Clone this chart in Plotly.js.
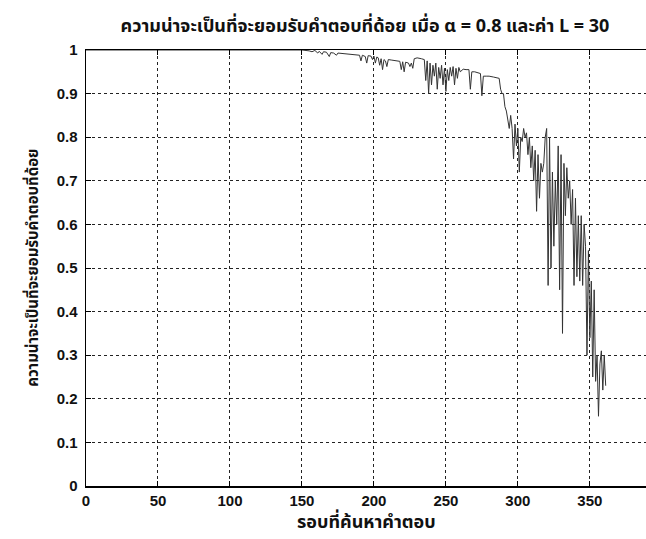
<!DOCTYPE html>
<html>
<head>
<meta charset="utf-8">
<script src="https://cdn.plot.ly/plotly-3.0.1.min.js"></script>
<style>
html,body{margin:0;padding:0;background:#fff;}
#chart{width:646px;height:539px;}
</style>
</head>
<body>
<div id="chart"></div>
<script>
// Data (iteration, probability of accepting a worse solution)
const iteration = [
  0, 150, 155, 157, 159, 161, 162, 164, 165, 167, 169, 170, 172, 174, 175, 178, 180, 183, 185, 188,
  190, 191, 192, 194, 195, 196, 198, 199, 200, 201, 202, 203, 204, 205, 206, 207, 208, 209, 210, 212,
  214, 216, 218, 219, 220, 221, 222, 224, 225, 226, 227, 228, 230, 233, 235, 236, 237, 238, 239, 240,
  241, 242, 243, 244, 245, 246, 247, 248, 249, 250, 251, 252, 253, 254, 255, 256, 257, 258, 259, 260,
  262, 264, 266, 267, 268, 270, 272, 274, 275, 276, 278, 280, 283, 285, 287, 288, 289, 290, 291, 292,
  293, 294, 295, 296, 297, 298, 299, 300, 301, 302, 303, 304, 305, 306, 307, 308, 309, 310, 311, 312,
  313, 314, 315, 316, 317, 318, 319, 320, 321, 322, 323, 324, 325, 326, 327, 328, 329, 330, 331, 332,
  333, 334, 335, 336, 337, 338, 339, 340, 341, 342, 343, 344, 345, 346, 347, 348, 349, 350, 351, 352,
  353, 354, 355, 356, 357, 358, 359, 360, 361
];
const probability = [
  1, 1, 0.998, 0.996, 0.999, 0.993, 0.997, 0.99, 0.996, 0.995, 0.985, 0.994, 0.993, 0.988, 0.993, 0.992, 0.991, 0.99, 0.99, 0.99,
  0.988, 0.975, 0.988, 0.985, 0.97, 0.987, 0.986, 0.978, 0.986, 0.97, 0.984, 0.982, 0.965, 0.98, 0.955, 0.978, 0.975, 0.962, 0.978, 0.977,
  0.976, 0.975, 0.974, 0.955, 0.973, 0.95, 0.972, 0.97, 0.962, 0.97, 0.958, 0.98, 0.982, 0.98, 0.978, 0.93, 0.975, 0.9, 0.97, 0.92,
  0.965, 0.94, 0.97, 0.91, 0.96, 0.935, 0.965, 0.92, 0.958, 0.905, 0.955, 0.93, 0.96, 0.94, 0.962, 0.92, 0.958, 0.935, 0.96, 0.95,
  0.956, 0.955, 0.955, 0.91, 0.95, 0.95, 0.948, 0.946, 0.895, 0.94, 0.94, 0.94, 0.938, 0.936, 0.935, 0.91, 0.9, 0.9, 0.87, 0.86,
  0.84, 0.82, 0.85, 0.82, 0.75, 0.83, 0.78, 0.82, 0.72, 0.8, 0.79, 0.82, 0.8, 0.81, 0.76, 0.8, 0.73, 0.78, 0.7, 0.77,
  0.63, 0.76, 0.66, 0.74, 0.72, 0.74, 0.8, 0.82, 0.46, 0.8, 0.5, 0.72, 0.55, 0.7, 0.6, 0.78, 0.45, 0.76, 0.35, 0.74,
  0.62, 0.73, 0.66, 0.7, 0.6, 0.68, 0.46, 0.66, 0.48, 0.62, 0.47, 0.62, 0.46, 0.6, 0.55, 0.3, 0.54, 0.34, 0.47, 0.25,
  0.45, 0.24, 0.3, 0.16, 0.28, 0.31, 0.22, 0.3, 0.23
];
const xTicks = [0, 50, 100, 150, 200, 250, 300, 350];
const yTicks = [0, 0.1, 0.2, 0.3, 0.4, 0.5, 0.6, 0.7, 0.8, 0.9, 1];
const yTickText = ['0', '0.1', '0.2', '0.3', '0.4', '0.5', '0.6', '0.7', '0.8', '0.9', '1'];
const titleText = 'ความน่าจะเป็นที่จะยอมรับคำตอบที่ด้อย เมื่อ α = 0.8 และค่า L = 30';
const xTitle = 'รอบที่ค้นหาคำตอบ';
const yTitle = 'ความน่าจะเป็นที่จะยอมรับคำตอบที่ด้อย';

const FONT = '"Noto Sans Thai", "Noto Sans", "Liberation Sans", Arial, sans-serif';

const trace = {
  x: iteration, y: probability, type: 'scatter', mode: 'lines',
  line: {color: '#333', width: 1}, hoverinfo: 'skip'
};

const axisCommon = {
  showline: true, linecolor: '#000', linewidth: 1.5,
  ticks: 'inside', ticklen: 5, tickcolor: '#000', tickwidth: 1,
  showgrid: true, gridcolor: '#222', gridwidth: 1, griddash: '3px,3px',
  zeroline: false,
  tickfont: {family: '"Liberation Sans", Arial, sans-serif', size: 15, color: '#111', weight: 'bold'}
};

const layout = {
  width: 646, height: 539,
  margin: {l: 86, r: 0, t: 50, b: 53, pad: 0},
  paper_bgcolor: '#fff', plot_bgcolor: '#fff',
  showlegend: false,
  title: {
    text: titleText, x: 0.565, xanchor: 'center', xref: 'container',
    y: 1 - 26/539, yanchor: 'middle', yref: 'container',
    font: {family: FONT, size: 18, color: '#111', weight: 'bold'}
  },
  xaxis: Object.assign({}, axisCommon, {
    range: [0, 389], tickvals: xTicks, ticktext: xTicks.map(String),
    mirror: 'ticks'
  }),
  yaxis: Object.assign({}, axisCommon, {
    range: [0, 1], tickvals: yTicks, ticktext: yTickText,
    mirror: false, ticklabelstandoff: 4
  }),
  annotations: [
    {text: xTitle, xref: 'paper', yref: 'paper', x: 0.5, y: -0.083,
     xanchor: 'center', yanchor: 'middle', showarrow: false,
     font: {family: FONT, size: 18, color: '#111', weight: 'bold'}},
    {text: yTitle, xref: 'paper', yref: 'paper', x: -0.095, y: 0.5,
     xanchor: 'center', yanchor: 'middle', textangle: -90, showarrow: false,
     font: {family: FONT, size: 15, color: '#111', weight: 'bold'}}
  ]
};

Plotly.newPlot('chart', [trace], layout, {staticPlot: true, displayModeBar: false});
</script>
</body>
</html>
